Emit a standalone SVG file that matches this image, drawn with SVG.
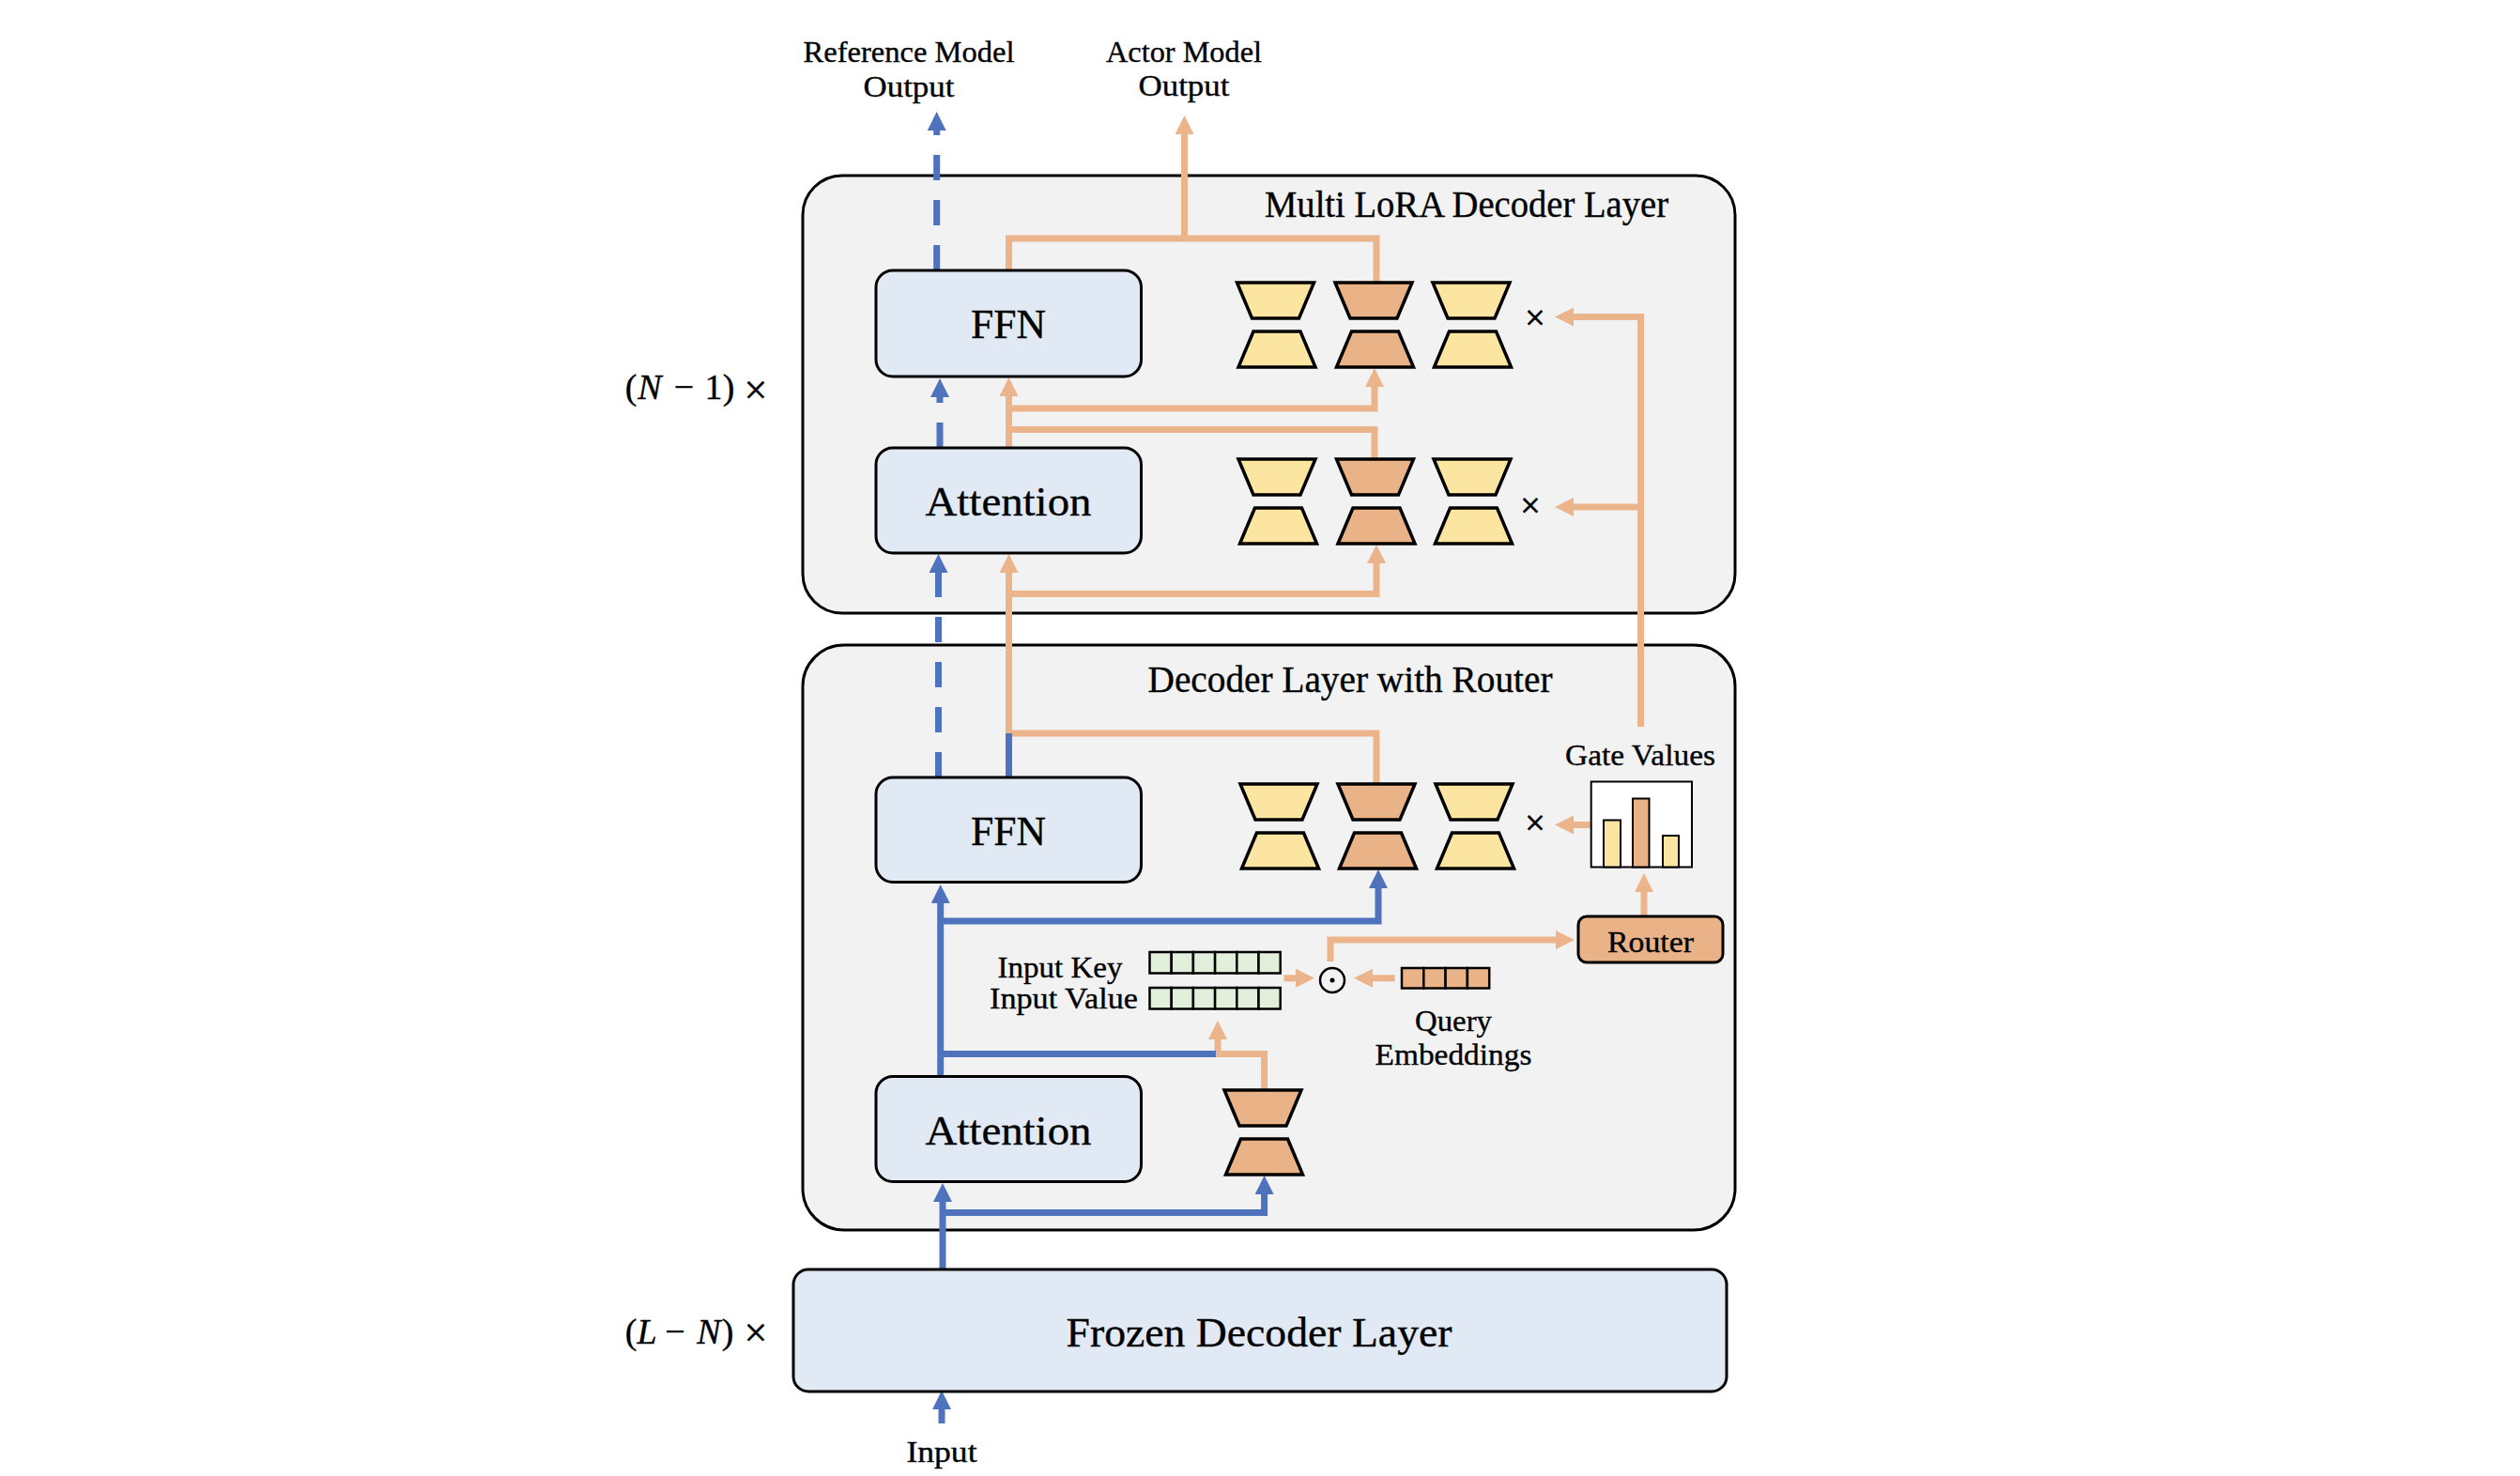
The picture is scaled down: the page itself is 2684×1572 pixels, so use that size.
<svg xmlns="http://www.w3.org/2000/svg" width="2684" height="1572" viewBox="0 0 2684 1572">
<style>
text{font-family:"Liberation Serif","Times New Roman",serif;fill:#000;text-anchor:middle;stroke:#000;stroke-width:.35px}
.s{font-size:31px}.l{font-size:38px}.t{font-size:39px}.b{font-size:44px}.x{font-size:38px;stroke-width:.7px}.xl{font-size:44px;stroke-width:.5px}
.panel{fill:#f2f2f2;stroke:#000;stroke-width:3}
.box{fill:#e1eaf4;stroke:#000;stroke-width:3}
.tr polygon{stroke:#000;stroke-width:3.5;stroke-linejoin:miter}
.y{fill:#fbe5a0}.o{fill:#e9b287}
.cell{fill:#e2efda;stroke:#000;stroke-width:2.5}.qc{fill:#e9b287;stroke:#000;stroke-width:2.5}
.or{fill:none;stroke:#ebb48a;stroke-width:7}
.bl{fill:none;stroke:#4f72bd;stroke-width:7}
.da{stroke-dasharray:27 21}
.ah{marker-end:url(#ao)}.ab{marker-end:url(#ab)}
</style>
<defs>
<marker id="ao" markerUnits="userSpaceOnUse" markerWidth="20" markerHeight="20" viewBox="0 0 20 20" refX="7" refY="10" orient="auto"><path d="M0,0 L20,10 L0,20 z" fill="#ebb48a"/></marker>
<marker id="ab" markerUnits="userSpaceOnUse" markerWidth="20" markerHeight="20" viewBox="0 0 20 20" refX="7" refY="10" orient="auto"><path d="M0,0 L20,10 L0,20 z" fill="#4f72bd"/></marker>
<g id="hg" class="tr"><polygon points="0,0 82,0 66,38 16,38"/><polygon points="1.500,90 83.500,90 67.500,52 17.500,52"/></g>
</defs>
<g id="node-multi-lora"><rect class="panel" x="855" y="187" width="993" height="466" rx="42"/><text class="t" x="1562" y="231" textLength="430" lengthAdjust="spacingAndGlyphs">Multi LoRA Decoder Layer</text></g>
<g id="node-router-layer"><rect class="panel" x="855" y="687" width="993" height="623" rx="44"/><text class="t" x="1438" y="737" textLength="431" lengthAdjust="spacingAndGlyphs">Decoder Layer with Router</text></g>
<g id="connectors">
<path class="or ah" d="M1261.500,254 V136"/>
<path class="or" d="M1074.500,288 V254 H1466 V301"/>
<path class="or ah" d="M1074.500,477 V415"/>
<path class="or ah" d="M1074.500,435 H1464 V405"/>
<path class="or" d="M1074.500,457.500 H1464 V489"/>
<path class="or ah" d="M1074.500,781 V603"/>
<path class="or ah" d="M1074.500,632.500 H1466 V593"/>
<path class="or" d="M1074.500,781 H1466 V835"/>
<path class="or ah" d="M1747.500,774 V337.500 H1669"/>
<path class="or ah" d="M1747.500,540 H1669"/>
<path class="or ah" d="M1695,878.500 H1669"/>
<path class="or ah" d="M1751,976 V943"/>
<path class="or ah" d="M1417,1024 V1001 H1664"/>
<path class="or ah" d="M1367.500,1041.800 H1387"/>
<path class="or ah" d="M1485.600,1041.800 H1455"/>
<path class="or ah" d="M1346.600,1161 V1122.500 H1297 V1100"/>
<path class="bl ab da" d="M997.700,288 V132"/>
<path class="bl ab da" d="M1001,477 V416"/>
<path class="bl ab da" d="M999.500,828 V603"/>
<path class="bl" d="M1074.500,828 V781"/>
<path class="bl ab" d="M1001.700,1146.500 V955"/>
<path class="bl ab" d="M1001.700,981 H1468 V939"/>
<path class="bl" d="M1001.700,1122.500 H1295"/>
<path class="bl ab" d="M1004,1352 V1273"/>
<path class="bl ab" d="M1004,1291.500 H1346.600 V1265"/>
<path class="bl ab" d="M1003,1516 V1494"/>
</g>
<g id="node-ffn-top"><rect class="box" x="933" y="288" width="282.500" height="113" rx="18"/><text class="b" x="1074" y="360" textLength="80" lengthAdjust="spacingAndGlyphs">FFN</text></g>
<g id="node-attn-top"><rect class="box" x="933" y="477" width="282.500" height="112" rx="18"/><text class="b" x="1074" y="549" textLength="177" lengthAdjust="spacingAndGlyphs">Attention</text></g>
<g id="node-ffn-router"><rect class="box" x="933" y="828" width="282.500" height="111.500" rx="18"/><text class="b" x="1074" y="900" textLength="80" lengthAdjust="spacingAndGlyphs">FFN</text></g>
<g id="node-attn-router"><rect class="box" x="933" y="1146.500" width="282.500" height="112" rx="18"/><text class="b" x="1074" y="1219" textLength="177" lengthAdjust="spacingAndGlyphs">Attention</text></g>
<g id="node-frozen"><rect class="box" x="845" y="1352" width="994" height="130" rx="16"/><text class="b" x="1341" y="1434" textLength="411" lengthAdjust="spacingAndGlyphs">Frozen Decoder Layer</text></g>
<g id="node-lora-row1"><use href="#hg" class="y" x="1317.500" y="301"/><use href="#hg" class="o" x="1422" y="301"/><use href="#hg" class="y" x="1526" y="301"/><text class="x" x="1635" y="351">×</text></g>
<g id="node-lora-row2"><use href="#hg" class="y" x="1319" y="489"/><use href="#hg" class="o" x="1423.500" y="489"/><use href="#hg" class="y" x="1527" y="489"/><text class="x" x="1630" y="551">×</text></g>
<g id="node-lora-row3"><use href="#hg" class="y" x="1321" y="835"/><use href="#hg" class="o" x="1425" y="835"/><use href="#hg" class="y" x="1529" y="835"/><text class="x" x="1635" y="889">×</text></g>
<g id="node-lora-single"><use href="#hg" class="o" x="1304" y="1161"/></g>
<g id="node-gate"><text class="s" x="1747" y="815" textLength="160" lengthAdjust="spacingAndGlyphs">Gate Values</text><rect x="1694.700" y="832.500" width="107.300" height="91" fill="#fff" stroke="#000" stroke-width="2"/><rect class="y" x="1708" y="873.500" width="18" height="50" stroke="#000" stroke-width="2"/><rect class="o" x="1739" y="850.500" width="17.500" height="73" stroke="#000" stroke-width="2"/><rect class="y" x="1771" y="890" width="17" height="33.500" stroke="#000" stroke-width="2"/></g>
<g id="node-router"><rect x="1681" y="976" width="154" height="49" rx="9" class="o" stroke="#000" stroke-width="3"/><text class="s" x="1758" y="1014" textLength="92" lengthAdjust="spacingAndGlyphs">Router</text></g>
<g id="node-input-key"><text class="s" x="1129" y="1041" textLength="133" lengthAdjust="spacingAndGlyphs">Input Key</text><rect class="cell" x="1224.500" y="1014" width="23.200" height="22.500"/><rect class="cell" x="1247.700" y="1014" width="23.200" height="22.500"/><rect class="cell" x="1270.900" y="1014" width="23.200" height="22.500"/><rect class="cell" x="1294.100" y="1014" width="23.200" height="22.500"/><rect class="cell" x="1317.300" y="1014" width="23.200" height="22.500"/><rect class="cell" x="1340.500" y="1014" width="23.200" height="22.500"/></g>
<g id="node-input-value"><text class="s" x="1133" y="1074" textLength="158" lengthAdjust="spacingAndGlyphs">Input Value</text><rect class="cell" x="1224.500" y="1052" width="23.200" height="22.500"/><rect class="cell" x="1247.700" y="1052" width="23.200" height="22.500"/><rect class="cell" x="1270.900" y="1052" width="23.200" height="22.500"/><rect class="cell" x="1294.100" y="1052" width="23.200" height="22.500"/><rect class="cell" x="1317.300" y="1052" width="23.200" height="22.500"/><rect class="cell" x="1340.500" y="1052" width="23.200" height="22.500"/></g>
<g id="node-dot"><circle cx="1419" cy="1044" r="13" fill="none" stroke="#000" stroke-width="2.500"/><circle cx="1419" cy="1044" r="2.500" fill="#000"/></g>
<g id="node-query"><rect class="qc" x="1493" y="1031" width="23.300" height="21.500"/><rect class="qc" x="1516.300" y="1031" width="23.300" height="21.500"/><rect class="qc" x="1539.600" y="1031" width="23.300" height="21.500"/><rect class="qc" x="1562.900" y="1031" width="23.300" height="21.500"/><text class="s" x="1548" y="1098" textLength="82" lengthAdjust="spacingAndGlyphs">Query</text><text class="s" x="1548" y="1134" textLength="167" lengthAdjust="spacingAndGlyphs">Embeddings</text></g>
<g id="labels">
<text class="s" x="968" y="66" textLength="225" lengthAdjust="spacingAndGlyphs">Reference Model</text><text class="s" x="968" y="103" textLength="97" lengthAdjust="spacingAndGlyphs">Output</text>
<text class="s" x="1261" y="66" textLength="166" lengthAdjust="spacingAndGlyphs">Actor Model</text><text class="s" x="1261" y="102" textLength="97" lengthAdjust="spacingAndGlyphs">Output</text>
<text class="l" y="425"><tspan x="672">(</tspan><tspan x="692" font-style="italic">N</tspan><tspan x="728.500">−</tspan><tspan x="760">1</tspan><tspan x="776">)</tspan></text><text class="xl" x="805" y="430">×</text>
<text class="l" y="1431"><tspan x="672">(</tspan><tspan x="689" font-style="italic">L</tspan><tspan x="719">−</tspan><tspan x="755" font-style="italic">N</tspan><tspan x="775">)</tspan></text><text class="xl" x="805" y="1434">×</text>
<text class="s" x="1003" y="1557" textLength="75" lengthAdjust="spacingAndGlyphs">Input</text>
</g>
</svg>
